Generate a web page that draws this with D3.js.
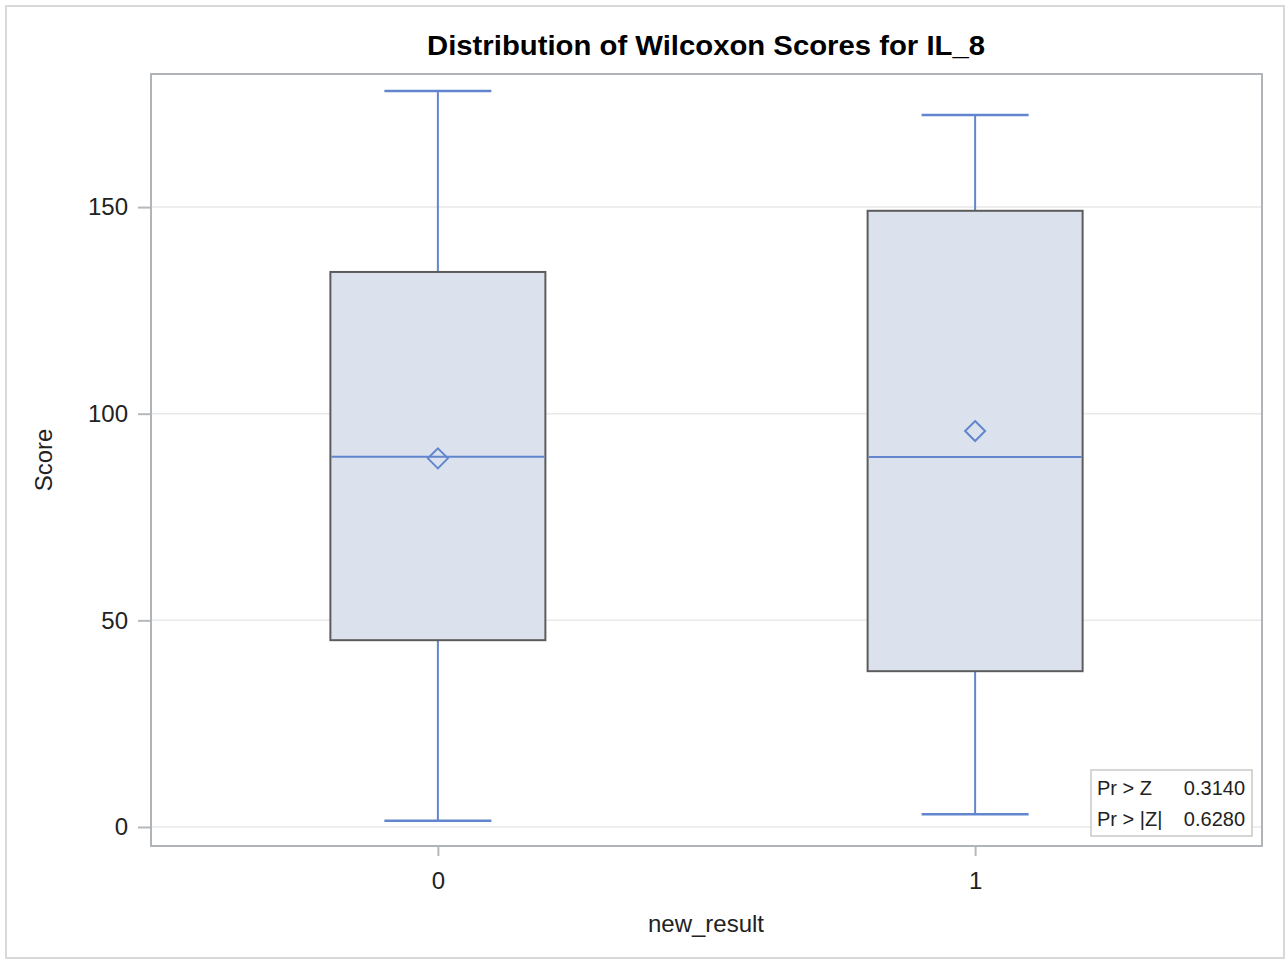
<!DOCTYPE html>
<html><head><meta charset="utf-8">
<script src="https://cdn.jsdelivr.net/npm/d3@7"></script>
<style>body{margin:0;background:#fff}svg{display:block}text{font-family:"Liberation Sans",Arial,sans-serif}</style>
</head><body>
<svg id="c" width="1287" height="960"></svg>
<script>
const categories = ["0","1"];
const whiskerLow  = [1.5, 3.1];
const q1          = [45.2, 37.7];
const medians     = [89.6, 89.5];
const q3          = [134.3, 149.1];
const whiskerHigh = [178.1, 172.3];
const means       = [89.2, 95.8];
const yTicks = [0, 50, 100, 150];
const statLabels = ["Pr > Z", "Pr > |Z|"];
const statValues = ["0.3140", "0.6280"];

const svg = d3.select("#c");
const L = 151, R = 1262, T = 74, B = 846;
const x = d3.scalePoint().domain(categories).range([L, R]).padding(0.534);
const y = d3.scaleLinear().domain([-4.6, 182.2]).range([B, T]);
const lineC = "#6286cd", fillC = "#dbe2ed", boxC = "#5c5c5c";

// outer frame
svg.append("rect").attr("x",6).attr("y",6).attr("width",1278).attr("height",952)
  .attr("fill","none").attr("stroke","#d8d8d8").attr("stroke-width",2);

// title
svg.append("text").attr("x",706).attr("y",55).attr("text-anchor","middle")
  .attr("font-size",28).attr("font-weight","bold").attr("fill","#000")
  .attr("textLength",558).attr("lengthAdjust","spacingAndGlyphs")
  .text("Distribution of Wilcoxon Scores for IL_8");

// grid
svg.append("g").selectAll("line").data(yTicks).join("line")
  .attr("x1",L).attr("x2",R).attr("y1",d=>y(d)).attr("y2",d=>y(d))
  .attr("stroke","#e9e9e9").attr("stroke-width",1.5);

// axes
const yAxis = svg.append("g").attr("transform",`translate(${L},0)`)
  .call(d3.axisLeft(y).tickValues(yTicks).tickSize(13).tickPadding(10));
const xAxis = svg.append("g").attr("transform",`translate(0,${B})`)
  .call(d3.axisBottom(x).tickSize(10).tickPadding(16));
[yAxis,xAxis].forEach(a=>{
  a.select(".domain").remove();
  a.selectAll(".tick line").attr("stroke","#b5b8bc").attr("stroke-width",2);
  a.selectAll(".tick text").attr("font-size",24).attr("fill","#222")
   .attr("font-family","'Liberation Sans',Arial,sans-serif");
});

// plot frame
svg.append("rect").attr("x",L).attr("y",T).attr("width",R-L).attr("height",B-T)
  .attr("fill","none").attr("stroke","#b0b4b8").attr("stroke-width",2);

// boxes
const boxW = 215, capW = 107;
const g = svg.append("g").selectAll("g").data(categories).join("g");
g.append("line").attr("x1",d=>x(d)).attr("x2",d=>x(d))
  .attr("y1",(d,i)=>y(whiskerHigh[i])).attr("y2",(d,i)=>y(q3[i]))
  .attr("stroke",lineC).attr("stroke-width",2);
g.append("line").attr("x1",d=>x(d)).attr("x2",d=>x(d))
  .attr("y1",(d,i)=>y(q1[i])).attr("y2",(d,i)=>y(whiskerLow[i]))
  .attr("stroke",lineC).attr("stroke-width",2);
g.append("line").attr("x1",d=>x(d)-capW/2).attr("x2",d=>x(d)+capW/2)
  .attr("y1",(d,i)=>y(whiskerHigh[i])).attr("y2",(d,i)=>y(whiskerHigh[i]))
  .attr("stroke",lineC).attr("stroke-width",2.5);
g.append("line").attr("x1",d=>x(d)-capW/2).attr("x2",d=>x(d)+capW/2)
  .attr("y1",(d,i)=>y(whiskerLow[i])).attr("y2",(d,i)=>y(whiskerLow[i]))
  .attr("stroke",lineC).attr("stroke-width",2.5);
g.append("rect").attr("x",d=>x(d)-boxW/2).attr("width",boxW)
  .attr("y",(d,i)=>y(q3[i])).attr("height",(d,i)=>y(q1[i])-y(q3[i]))
  .attr("fill",fillC).attr("stroke",boxC).attr("stroke-width",2);
g.append("line").attr("x1",d=>x(d)-boxW/2+1).attr("x2",d=>x(d)+boxW/2-1)
  .attr("y1",(d,i)=>y(medians[i])).attr("y2",(d,i)=>y(medians[i]))
  .attr("stroke",lineC).attr("stroke-width",2);
g.append("path").attr("transform",(d,i)=>`translate(${x(d)},${y(means[i])})`)
  .attr("d","M0,-10L10,0L0,10L-10,0Z").attr("fill","none")
  .attr("stroke",lineC).attr("stroke-width",2);

// axis labels
svg.append("text").attr("transform","translate(52,460) rotate(-90)")
  .attr("text-anchor","middle").attr("font-size",24).attr("fill","#222").text("Score");
svg.append("text").attr("x",706).attr("y",932).attr("text-anchor","middle")
  .attr("font-size",24).attr("fill","#222").text("new_result");

// inset
const ins = svg.append("g");
ins.append("rect").attr("x",1091).attr("y",770).attr("width",161).attr("height",66)
  .attr("fill","#fff").attr("stroke","#c9c9c9").attr("stroke-width",1.5);
ins.selectAll("text.l").data(statLabels).join("text").attr("class","l")
  .attr("x",1097).attr("y",(d,i)=>795+i*31).attr("font-size",20).attr("fill","#222").text(d=>d);
ins.selectAll("text.v").data(statValues).join("text").attr("class","v")
  .attr("x",1245).attr("y",(d,i)=>795+i*31).attr("text-anchor","end")
  .attr("font-size",20).attr("fill","#222").text(d=>d);
</script>
</body></html>
